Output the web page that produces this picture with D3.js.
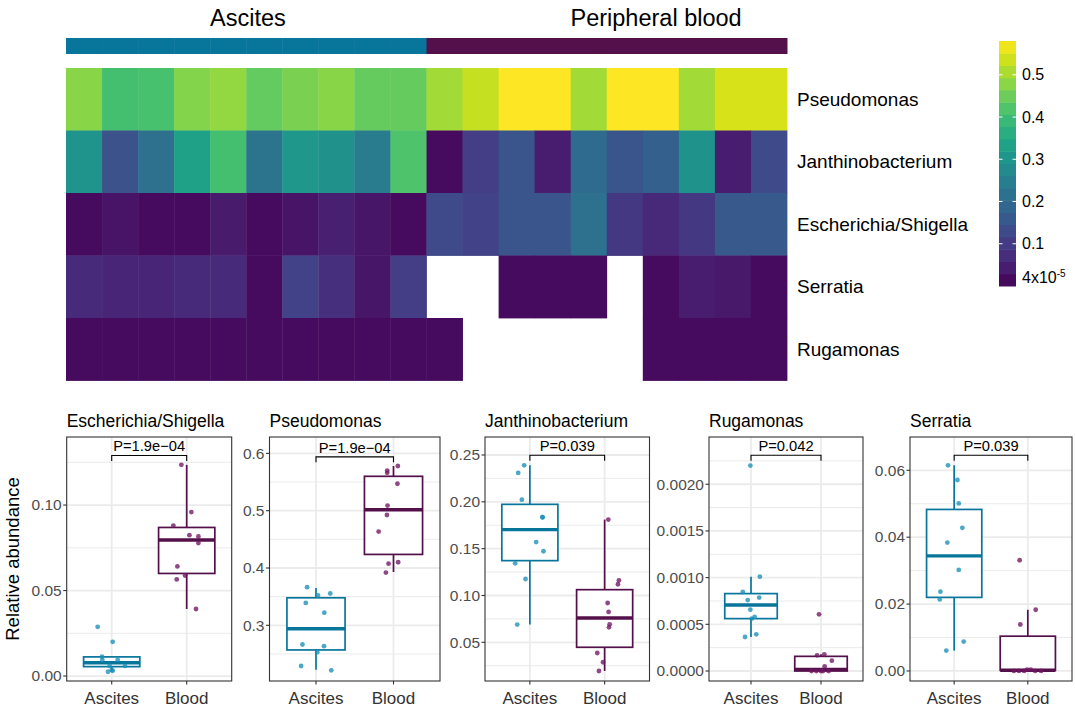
<!DOCTYPE html>
<html><head><meta charset="utf-8">
<script src="https://cdn.jsdelivr.net/npm/d3@7"></script>
<style>body{margin:0;background:#fff}svg{font-family:"Liberation Sans",Arial,Helvetica,sans-serif;display:block}</style>
</head><body><svg id="chart" width="1075" height="710"></svg>
<script>
// ---------------- DATA ----------------
const samples = ["A1","A2","A3","A4","A5","A6","A7","A8","A9","A10","B1","B2","B3","B4","B5","B6","B7","B8","B9","B10"];
const sampleGroup = ["Ascites","Ascites","Ascites","Ascites","Ascites","Ascites","Ascites","Ascites","Ascites","Ascites","Blood","Blood","Blood","Blood","Blood","Blood","Blood","Blood","Blood","Blood"];
const groupTitles = ["Ascites","Peripheral blood"];
const heatTaxa = ["Pseudomonas","Janthinobacterium","Escherichia/Shigella","Serratia","Rugamonas"];
const heatPseudomonas = [0.478,0.406,0.412,0.473,0.487,0.44,0.464,0.476,0.444,0.444,0.50,0.53,0.58,0.58,0.50,0.58,0.58,0.50,0.545,0.545];
const heatJanthino = [0.30,0.145,0.215,0.33,0.406,0.22,0.307,0.29,0.238,0.418,0.018,0.105,0.15,0.045,0.2,0.15,0.175,0.295,0.045,0.13];
const heatEscherichia = [0.018,0.03,0.018,0.018,0.042,0.018,0.03,0.05,0.033,0.018,0.13,0.115,0.15,0.15,0.215,0.095,0.065,0.095,0.16,0.16];
const heatSerratia = [0.07,0.06,0.06,0.07,0.07,0.018,0.115,0.08,0.033,0.105,null,null,0.018,0.018,0.018,null,0.018,0.045,0.037,0.018];
const heatRugamonas = [0.016,0.016,0.016,0.016,0.016,0.016,0.016,0.016,0.016,0.016,0.016,null,null,null,null,null,0.016,0.016,0.016,0.016];
const legendMin = 0.00004, legendMax = 0.58;
const legendTicks = [0.1,0.2,0.3,0.4,0.5];

const boxTaxa = ["Escherichia/Shigella","Pseudomonas","Janthinobacterium","Rugamonas","Serratia"];
const boxGroups = ["Ascites","Blood"];
const pLabels = ["P=1.9e\u221204","P=1.9e\u221204","P=0.039","P=0.042","P=0.039"];
const bracketY = [0.129,0.594,0.2497,0.00231,0.0645];

// points (value, jitter offset in category units)
const escAscites = [0.0288,0.020,0.0114,0.0094,0.0094,0.0059,0.0059,0.0035,0.0025,0.0031];
const escAscitesJit = [-0.187,0.013,-0.129,-0.125,0.08,-0.027,0.178,0,-0.049,0.013];
const escBlood = [0.1235,0.0959,0.088,0.0824,0.0816,0.0778,0.0641,0.0588,0.0565,0.0392];
const escBloodJit = [-0.071,0.062,-0.178,0.036,0.156,0.156,-0.124,-0.022,-0.133,0.124];
const pseAscites = [0.3665,0.352,0.3555,0.339,0.322,0.2665,0.2636,0.253,0.229,0.2214];
const pseAscitesJit = [-0.115,0.026,0.184,-0.132,0.107,-0.175,0.103,0.017,-0.192,0.197];
const pseBlood = [0.578,0.570,0.566,0.547,0.509,0.4925,0.4636,0.4075,0.410,0.392];
const pseBloodJit = [0.056,-0.081,-0.081,0.051,-0.077,-0.085,-0.192,-0.064,0.06,-0.098];
const janAscites = [0.239,0.2308,0.2023,0.1835,0.1835,0.157,0.1472,0.1343,0.1176,0.0689];
const janAscitesJit = [-0.076,-0.156,-0.107,0.169,0.169,0.084,0.182,-0.196,-0.058,-0.169];
const janBlood = [0.181,0.1162,0.112,0.092,0.0824,0.0692,0.066,0.0386,0.0287,0.0194];
const janBloodJit = [0.049,0.191,0.178,0.04,0.053,0.067,0.058,-0.098,-0.022,-0.076];
const rugAscites = [0.0022,0.00101,0.000846,0.00076,0.000786,0.000657,0.000579,0.00056,0.000364,0.000393];
const rugAscitesJit = [-0.009,0.127,-0.117,-0.047,0.117,-0.009,0.052,0.01,-0.085,0.075];
const rugBlood = [0.000607,0.000168,0.000179,0.000111,0.00005,0,0,0,0,0];
const rugBloodJit = [-0.028,-0.056,0.047,0.155,0.052,-0.136,-0.066,0.028,0.108,0.0];
const serAscites = [0.0615,0.0571,0.0501,0.0428,0.0384,0.0302,0.0237,0.0214,0.0088,0.0061];
const serAscitesJit = [-0.084,0.044,0.062,0.111,-0.093,0.062,-0.187,-0.196,0.129,-0.107];
const serBlood = [0.0331,0.0183,0.0139,0,0,0.0004,0.0004,0,0,0];
const serBloodJit = [-0.111,0.107,-0.102,-0.19,-0.12,-0.01,0.04,0.18,0.1,-0.05];

// box stats [lower whisker, Q1, median, Q3, upper whisker]
const escAscitesBox = [0.0025,0.0055,0.0078,0.0112,0.0114];
const escBloodBox = [0.0392,0.060,0.0796,0.0869,0.1235];
const pseAscitesBox = [0.2225,0.257,0.294,0.348,0.365];
const pseBloodBox = [0.393,0.4237,0.5017,0.560,0.578];
const janAscitesBox = [0.0689,0.1372,0.1703,0.1973,0.239];
const janBloodBox = [0.0194,0.0447,0.076,0.1062,0.181];
const rugAscitesBox = [0.000364,0.000561,0.000707,0.000829,0.00101];
const rugBloodBox = [0,0,0.000018,0.000157,0.000179];
const serAscitesBox = [0.0061,0.022,0.0344,0.0483,0.0615];
const serBloodBox = [0,0.0002,0.0002,0.0104,0.0183];

// axis ticks
const escTicks = [0,0.05,0.10], escTickLabels = ["0.00","0.05","0.10"];
const pseTicks = [0.3,0.4,0.5,0.6], pseTickLabels = ["0.3","0.4","0.5","0.6"];
const janTicks = [0.05,0.10,0.15,0.20,0.25], janTickLabels = ["0.05","0.10","0.15","0.20","0.25"];
const rugTicks = [0,0.0005,0.0010,0.0015,0.0020], rugTickLabels = ["0.0000","0.0005","0.0010","0.0015","0.0020"];
const serTicks = [0,0.02,0.04,0.06], serTickLabels = ["0.00","0.02","0.04","0.06"];

// ---------------- DRAW ----------------
const svg = d3.select("#chart");
const groupColor = {Ascites:"#08759A", Blood:"#53104A"};
const pointColor = {Ascites:"#1A90B6", Blood:"#701662"};
const viridis = d3.scaleSequential(d3.interpolateViridis).domain([0, legendMax]);

// heatmap
const hx = d3.scaleBand().domain(samples).range([66, 787]);
const hy = d3.scaleBand().domain(heatTaxa).range([68, 380.5]);
const heatRows = [heatPseudomonas, heatJanthino, heatEscherichia, heatSerratia, heatRugamonas];
const cells = [];
heatTaxa.forEach((t,i)=>samples.forEach((s,j)=>{ if(heatRows[i][j]!==null) cells.push({t,s,v:heatRows[i][j]}); }));
svg.append("g").selectAll("rect").data(cells).join("rect")
  .attr("x",d=>hx(d.s)).attr("y",d=>hy(d.t)).attr("width",hx.bandwidth()+0.4).attr("height",hy.bandwidth()+0.4)
  .attr("fill",d=>viridis(d.v));
// group bar
svg.append("g").selectAll("rect").data(samples).join("rect")
  .attr("x",s=>hx(s)).attr("y",38).attr("width",hx.bandwidth()+0.5).attr("height",16)
  .attr("fill",(s,i)=>groupColor[sampleGroup[i]]);
// group titles
const groupStarts = boxGroups.map(g=>hx(samples[sampleGroup.indexOf(g)]));
svg.append("g").selectAll("text").data(groupTitles).join("text")
  .attr("x",(d,i)=>groupStarts[i]+144).attr("y",26).attr("font-size",23.5).attr("fill","#000").text(d=>d);
// row labels
svg.append("g").selectAll("text").data(heatTaxa).join("text")
  .attr("x",797).attr("y",t=>hy(t)+hy.bandwidth()/2+6.5).attr("font-size",19).attr("fill","#000").text(d=>d);

// colorbar
const ly = d3.scaleLinear().domain([0, legendMax]).range([286, 41]);
const nb = 20;
const bands = d3.range(nb).map(i=>({a:legendMin+(legendMax-legendMin)*i/nb, b:legendMin+(legendMax-legendMin)*(i+1)/nb}));
svg.append("g").selectAll("rect").data(bands).join("rect")
  .attr("x",999).attr("width",17).attr("y",d=>ly(d.b)).attr("height",d=>ly(d.a)-ly(d.b)+0.5)
  .attr("fill",d=>viridis((d.a+d.b)/2));
const lg = svg.append("g");
lg.selectAll("line").data(legendTicks).join("line")
  .attr("x1",999).attr("x2",1002.5).attr("y1",d=>ly(d)).attr("y2",d=>ly(d)).attr("stroke","#fff").attr("stroke-width",1);
lg.selectAll("line.r").data(legendTicks).join("line").attr("class","r")
  .attr("x1",1012.5).attr("x2",1016).attr("y1",d=>ly(d)).attr("y2",d=>ly(d)).attr("stroke","#fff").attr("stroke-width",1);
lg.selectAll("text").data(legendTicks).join("text")
  .attr("x",1022).attr("y",d=>ly(d)+5.5).attr("font-size",16).attr("fill","#000").text(d=>d3.format(".1f")(d));
const minLab = lg.append("text").attr("x",1022).attr("y",ly(legendMin)-3).attr("font-size",16).attr("fill","#000");
minLab.append("tspan").text("4x10");
minLab.append("tspan").attr("dy",-6).attr("font-size",10).text("-5");

// box plots
const panels = [
  {title:boxTaxa[0], x0:66.7, x1:231.7, dom:[-0.0029,0.1398], ticks:escTicks, tl:escTickLabels, A:escAscites, AJ:escAscitesJit, B:escBlood, BJ:escBloodJit, SA:escAscitesBox, SB:escBloodBox},
  {title:boxTaxa[1], x0:269.5, x1:440, dom:[0.2028,0.6286], ticks:pseTicks, tl:pseTickLabels, A:pseAscites, AJ:pseAscitesJit, B:pseBlood, BJ:pseBloodJit, SA:pseAscitesBox, SB:pseBloodBox},
  {title:boxTaxa[2], x0:485, x1:649.5, dom:[0.0087,0.2692], ticks:janTicks, tl:janTickLabels, A:janAscites, AJ:janAscitesJit, B:janBlood, BJ:janBloodJit, SA:janAscitesBox, SB:janBloodBox},
  {title:boxTaxa[3], x0:709, x1:863, dom:[-0.000107,0.002506], ticks:rugTicks, tl:rugTickLabels, A:rugAscites, AJ:rugAscitesJit, B:rugBlood, BJ:rugBloodJit, SA:rugAscitesBox, SB:rugBloodBox},
  {title:boxTaxa[4], x0:910, x1:1072, dom:[-0.003,0.06996], ticks:serTicks, tl:serTickLabels, A:serAscites, AJ:serAscitesJit, B:serBlood, BJ:serBloodJit, SA:serAscitesBox, SB:serBloodBox}
];
const pTop = 437, pBottom = 681;
panels.forEach((p,pi)=>{
  const g = svg.append("g");
  const x = d3.scalePoint().domain(boxGroups).range([p.x0,p.x1]).padding(0.6);
  const step = x.step();
  const y = d3.scaleLinear().domain(p.dom).range([pBottom, pTop]);
  // grid
  const minor = [];
  const dt = p.ticks[1]-p.ticks[0];
  for (let k=-1;k<p.ticks.length;k++){ const v=p.ticks[0]+dt*(k+0.5); if(v>p.dom[0]&&v<p.dom[1]) minor.push(v); }
  g.selectAll("line.mi").data(minor).join("line").attr("class","mi")
    .attr("x1",p.x0).attr("x2",p.x1).attr("y1",d=>y(d)).attr("y2",d=>y(d)).attr("stroke","#EBEBEB").attr("stroke-width",1);
  g.selectAll("line.ma").data(p.ticks).join("line").attr("class","ma")
    .attr("x1",p.x0).attr("x2",p.x1).attr("y1",d=>y(d)).attr("y2",d=>y(d)).attr("stroke","#EBEBEB").attr("stroke-width",1.8);
  g.selectAll("line.mx").data(boxGroups).join("line").attr("class","mx")
    .attr("x1",d=>x(d)).attr("x2",d=>x(d)).attr("y1",pTop).attr("y2",pBottom).attr("stroke","#EBEBEB").attr("stroke-width",1.8);
  // boxes
  const stats = [p.SA,p.SB];
  const bw = step*0.75;
  boxGroups.forEach((grp,gi)=>{
    const s = stats[gi], cx = x(grp), col = groupColor[grp];
    g.append("line").attr("x1",cx).attr("x2",cx).attr("y1",y(s[3])).attr("y2",y(s[4])).attr("stroke",col).attr("stroke-width",1.7);
    g.append("line").attr("x1",cx).attr("x2",cx).attr("y1",y(s[1])).attr("y2",y(s[0])).attr("stroke",col).attr("stroke-width",1.7);
    g.append("rect").attr("x",cx-bw/2).attr("width",bw).attr("y",y(s[3])).attr("height",Math.max(0,y(s[1])-y(s[3])))
      .attr("fill","#fff").attr("stroke",col).attr("stroke-width",1.7);
    g.append("line").attr("x1",cx-bw/2).attr("x2",cx+bw/2).attr("y1",y(s[2])).attr("y2",y(s[2])).attr("stroke",col).attr("stroke-width",3.4);
  });
  // points
  const pts = [];
  p.A.forEach((v,i)=>pts.push({g:"Ascites",v,j:p.AJ[i]}));
  p.B.forEach((v,i)=>pts.push({g:"Blood",v,j:p.BJ[i]}));
  g.selectAll("circle").data(pts).join("circle")
    .attr("cx",d=>x(d.g)+d.j*step).attr("cy",d=>y(d.v)).attr("r",2.4)
    .attr("fill",d=>pointColor[d.g]).attr("fill-opacity",0.78);
  // border
  g.append("rect").attr("x",p.x0).attr("y",pTop).attr("width",p.x1-p.x0).attr("height",pBottom-pTop)
    .attr("fill","none").attr("stroke","#333").attr("stroke-width",1.1);
  // y axis
  g.selectAll("line.yt").data(p.ticks).join("line").attr("class","yt")
    .attr("x1",p.x0-3.5).attr("x2",p.x0).attr("y1",d=>y(d)).attr("y2",d=>y(d)).attr("stroke","#333").attr("stroke-width",1.1);
  g.selectAll("text.yl").data(p.ticks).join("text").attr("class","yl")
    .attr("x",p.x0-5).attr("y",d=>y(d)+5.3).attr("text-anchor","end").attr("font-size",15.5).attr("fill","#4D4D4D")
    .text((d,i)=>p.tl[i]);
  // x axis
  g.selectAll("line.xt").data(boxGroups).join("line").attr("class","xt")
    .attr("x1",d=>x(d)).attr("x2",d=>x(d)).attr("y1",pBottom).attr("y2",pBottom+3.5).attr("stroke","#333").attr("stroke-width",1.1);
  g.selectAll("text.xl").data(boxGroups).join("text").attr("class","xl")
    .attr("x",d=>x(d)).attr("y",704).attr("text-anchor","middle").attr("font-size",17).attr("fill","#333").text(d=>d);
  // title
  g.append("text").attr("x",p.x0).attr("y",427).attr("font-size",17.5).attr("fill","#000").text(p.title);
  // bracket
  const by = y(bracketY[pi]);
  const xa = x(boxGroups[0]), xb = x(boxGroups[1]);
  g.append("path").attr("d",`M${xa},${by+5.5}V${by}H${xb}V${by+5.5}`).attr("fill","none").attr("stroke","#000").attr("stroke-width",1.1);
  g.append("text").attr("x",(xa+xb)/2).attr("y",by-4).attr("text-anchor","middle").attr("font-size",14.7).attr("fill","#000").text(pLabels[pi]);
});
// y axis title
svg.append("text").attr("transform","translate(19,559) rotate(-90)").attr("text-anchor","middle")
  .attr("font-size",18.5).attr("fill","#000").text("Relative abundance");
</script></body></html>
